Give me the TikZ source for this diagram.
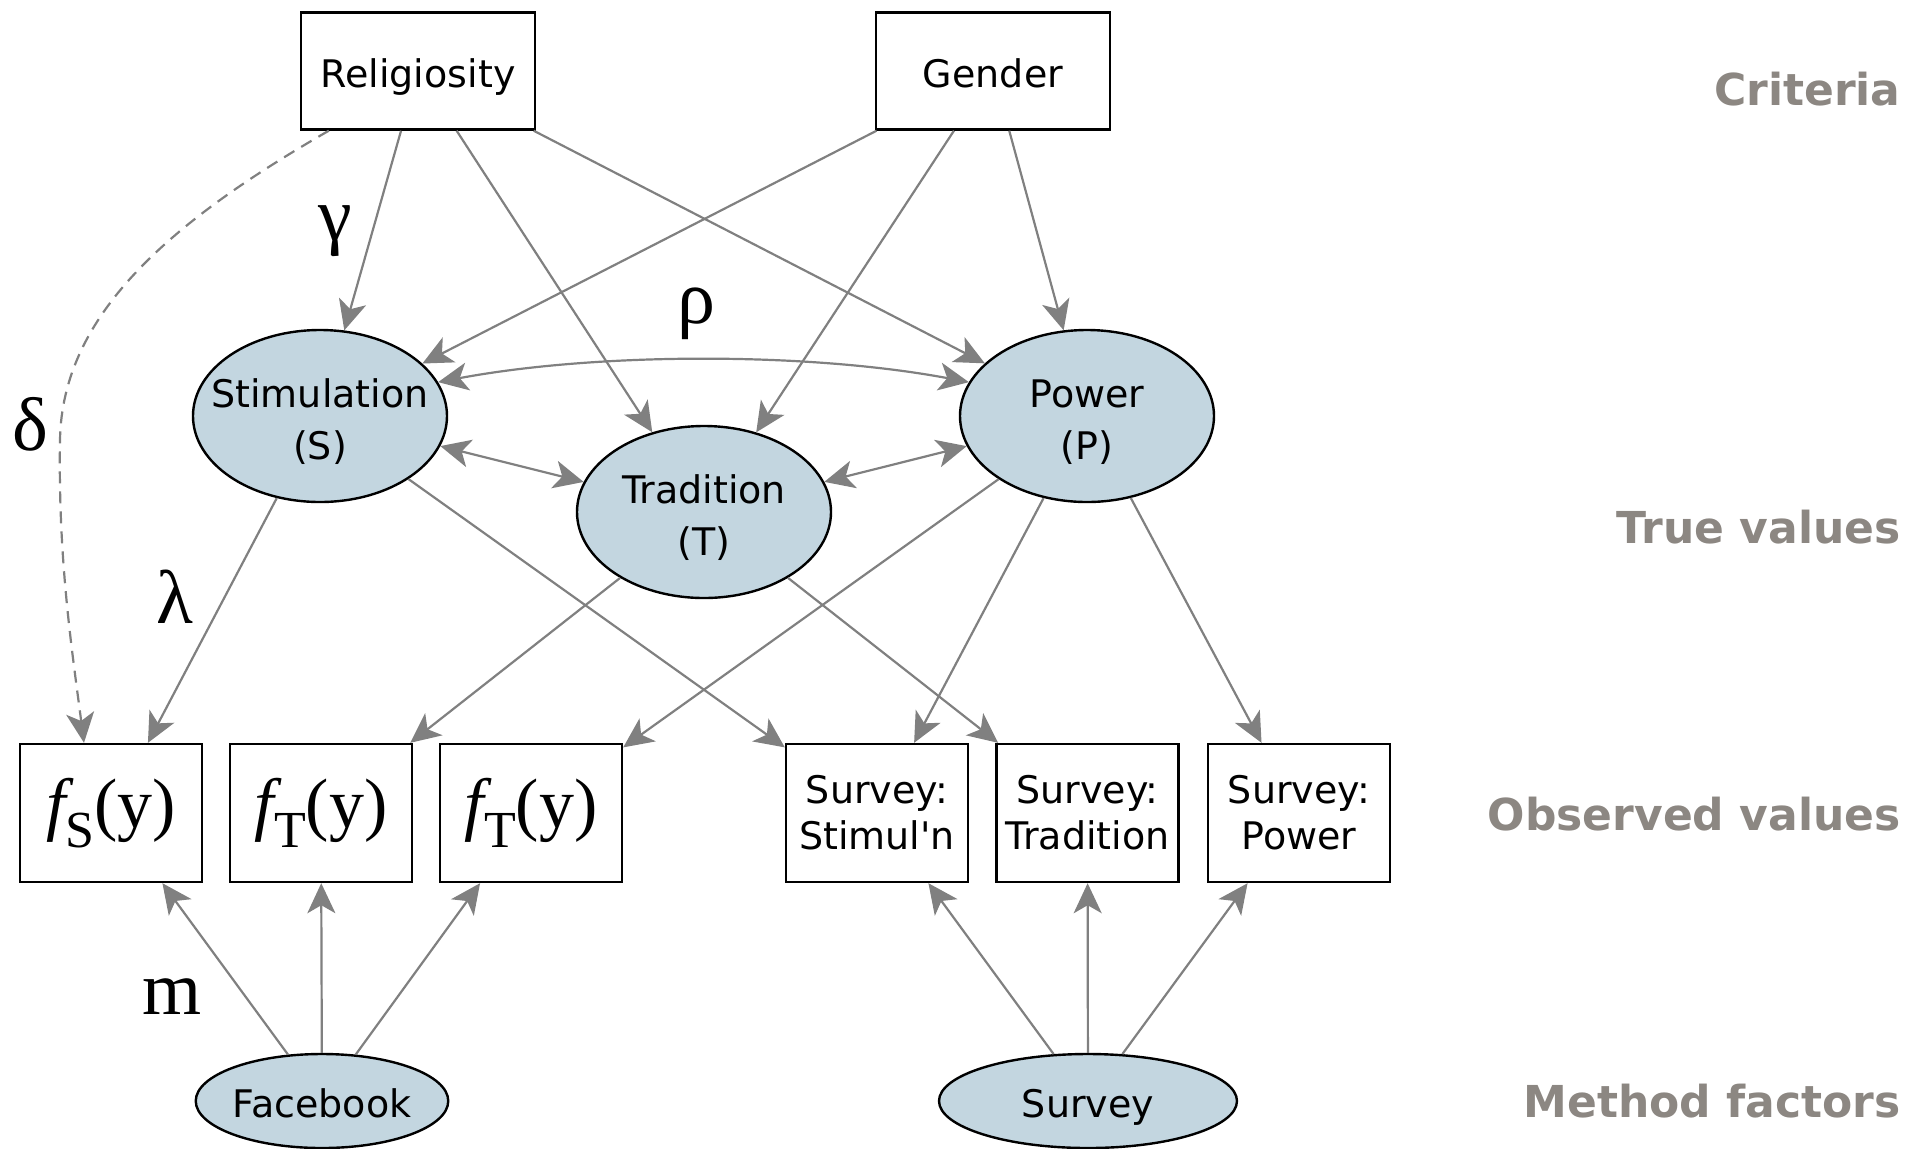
\documentclass[tikz,border=0pt]{standalone}
\usepackage{fontspec}
\setmainfont{DejaVu Sans}
\newfontfamily\serifgr{Liberation Serif}
\usetikzlibrary{shapes.geometric,arrows.meta}
\definecolor{fillblue}{RGB}{195,214,224}
\definecolor{arrowgray}{RGB}{128,128,128}
\definecolor{labgray}{RGB}{140,135,130}
\begin{document}
\begin{tikzpicture}[x=0.5pt,y=-0.5pt,
  box/.style={draw=black, line width=1.2pt, fill=white, rectangle, inner sep=0pt,
    font=\fontsize{19}{23}\selectfont, align=center},
  critbox/.style={box, minimum width=117pt, minimum height=58.5pt, text height=17pt, text depth=1pt},
  obsbox/.style={box, minimum width=91pt, minimum height=69pt},
  fybox/.style={obsbox, font=\serifgr\fontsize{35}{35}\selectfont},
  latent/.style={draw=black, line width=1.2pt, fill=fillblue, ellipse, inner sep=0pt},
  truev/.style={latent, minimum width=127pt, minimum height=86pt},
  method/.style={latent, minimum height=47pt, font=\fontsize{19}{23}\selectfont, text height=17pt, text depth=1pt},
  lattext/.style={font=\fontsize{19}{26}\selectfont, align=center, inner sep=0pt, yshift=-3pt},
  conn/.style={draw=arrowgray, line width=1.1pt, -{Stealth[length=15pt,width=14pt,inset=4pt]}},
  biconn/.style={draw=arrowgray, line width=1.1pt, {Stealth[length=15pt,width=14pt,inset=4pt]}-{Stealth[length=15pt,width=14pt,inset=4pt]}},
  greek/.style={font=\serifgr\fontsize{38}{38}\selectfont, inner sep=0pt},
  levellab/.style={font=\bfseries\fontsize{22}{22}\selectfont, text=labgray, anchor=east, inner sep=0pt}
]
\useasboundingbox (0,0) rectangle (1929,1148);

% criteria
\node[critbox] (rel) at (418,71) {Religiosity};
\node[critbox] (gen) at (993,71) {Gender};

% true values
\node[truev, label={[lattext]center:Stimulation\\(S)}] (stim) at (320,416) {};
\node[truev, label={[lattext]center:Tradition\\(T)}] (trad) at (704,512) {};
\node[truev, label={[lattext]center:Power\\(P)}] (power) at (1087,416) {};

% observed
\node[fybox] (fs) at (111,813) {{\itshape f}\raisebox{-0.28em}{\fontsize{26}{26}\selectfont S}(y)};
\node[fybox] (ft1) at (321,813) {{\itshape f}\raisebox{-0.28em}{\fontsize{26}{26}\selectfont T}(y)};
\node[fybox] (ft2) at (531,813) {{\itshape f}\raisebox{-0.28em}{\fontsize{26}{26}\selectfont T}(y)};
\node[obsbox] (sst) at (877,813) {Survey:\\Stimul\textquotesingle n};
\node[obsbox] (str) at (1087.5,813) {Survey:\\Tradition};
\node[obsbox] (spo) at (1299,813) {Survey:\\Power};

% method factors
\node[method, minimum width=126pt] (fb) at (322,1101) {Facebook};
\node[method, minimum width=149pt] (sv) at (1088,1101) {Survey};

% level labels
\node[levellab] (l1) at (1901,89) {Criteria};
\node[levellab] (l2) at (1901,527) {True values};
\node[levellab] (l3) at (1901,814) {Observed values};
\node[levellab] (l4) at (1901,1101) {Method factors};

% greek labels
\node[greek] (gam) at (335,231) {γ};
\node[greek] (rho) at (696,314) {ρ};
\node[greek] (del) at (30,424) {δ};
\node[greek] (lam) at (175,597) {λ};
\node[greek] (mm) at (172,997) {m};

% criteria -> true values
\draw[conn] (rel) -- (stim);
\draw[conn] (rel) -- (trad);
\draw[conn] (rel) -- (power);
\draw[conn] (gen) -- (stim);
\draw[conn] (gen) -- (trad);
\draw[conn] (gen) -- (power);

% correlations
\draw[biconn] (stim) -- (trad);
\draw[biconn] (trad) -- (power);
\draw[biconn] (stim.16) .. controls +(160,-30) and +(-160,-30) .. (power.164);

% dashed direct effect
\draw[conn, dash pattern=on 6pt off 4pt]
  ([xshift=14.5pt]rel.south west) .. controls (170,222) and (62,315) .. (60,440)
  .. controls (58,560) and (72,650) .. ([xshift=-13.5pt]fs.north);

% true values -> observed
\draw[conn] (stim) -- (fs);
\draw[conn] (stim) -- (sst);
\draw[conn] (trad) -- (ft1);
\draw[conn] (trad) -- (str);
\draw[conn] (power) -- (ft2);
\draw[conn] (power) -- (sst);
\draw[conn] (power) -- (spo);

% method factors -> observed
\draw[conn] (fb) -- (fs);
\draw[conn] (fb) -- (ft1);
\draw[conn] (fb) -- (ft2);
\draw[conn] (sv) -- (sst);
\draw[conn] (sv) -- (str);
\draw[conn] (sv) -- (spo);
\end{tikzpicture}
\end{document}
